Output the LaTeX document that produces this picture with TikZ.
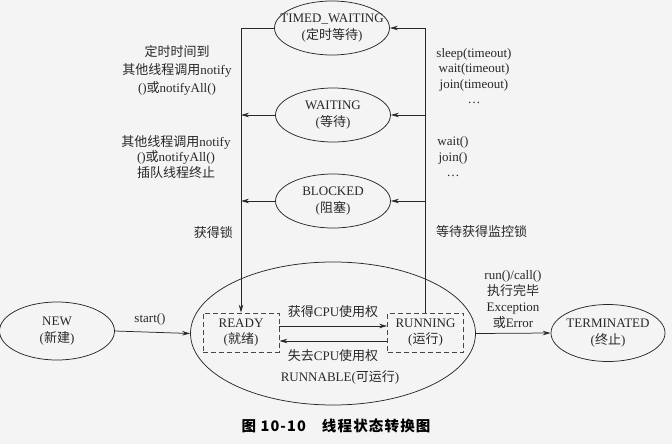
\documentclass[tikz,border=0pt]{standalone}
\usepackage{fontspec}
\setmainfont{Liberation Serif}
\newfontfamily\cjk{Noto Sans CJK SC}
\newfontfamily\cjkcap{Noto Sans CJK SC}[LetterSpace=8]
\newcommand{\zh}[1]{{\cjk #1}}
\usetikzlibrary{shapes.geometric,arrows.meta}
\definecolor{bgcol}{RGB}{244,244,244}
\definecolor{inkcol}{RGB}{40,40,40}
\tikzset{
  ln/.style={line width=0.75pt, draw=inkcol},
  st/.style={ellipse, ln, minimum width=115pt, minimum height=54pt, inner sep=0pt},
  bx/.style={draw=inkcol!85, line width=0.75pt, dash pattern=on 5pt off 3pt, minimum width=76pt, minimum height=39pt, inner sep=0pt},
  arr/.style={ln, -{Stealth[length=8pt,width=4.5pt]}},
  lbl/.style={align=center, inner sep=0pt},
}
\begin{document}
\begin{tikzpicture}[x=1pt, y=-1pt, font=\fontsize{13}{16.5}\selectfont, text=inkcol]
\fill[bgcol] (0,0) rectangle (672,444);
\useasboundingbox (0,0) rectangle (672,444);

% upper states
\node[st] (tw) at (332,28) {};
\node[lbl] (twl) at (tw) {TIMED\_WAITING\\(\zh{定时等待})};
\node[st] (wt) at (333,115) {};
\node[lbl] (wtl) at (wt) {WAITING\\(\zh{等待})};
\node[st] (bl) at (333,201) {};
\node[lbl] (bll) at (bl) {BLOCKED\\(\zh{阻塞})};

% runnable
\node[ellipse, ln, minimum width=285pt, minimum height=143pt, inner sep=0pt] (rb) at (333,333.5) {};
\node[bx] (rd) at (241,332.5) {};
\node[lbl] (rdl) at (rd) {READY\\(\zh{就绪})};
\node[bx] (rn) at (425.5,332.5) {};
\node[lbl] (rnl) at (rn) {RUNNING\\(\zh{运行})};
\node[lbl] (rbl) at (340,377) {RUNNABLE(\zh{可运行})};

% new / terminated
\node[st, minimum height=58pt] (nw) at (57,331) {};
\node[lbl] (nwl) at (nw) {NEW\\(\zh{新建})};
\node[st, minimum height=57pt, minimum width=114pt] (tm) at (608,333) {};
\node[lbl] (tml) at (tm) {TERMINATED\\(\zh{终止})};

% connectors
\draw[arr] (tw.west) -| (rd.north);
\draw[arr] (wt.west) -- (wt.west -| rd.north);
\draw[arr] (bl.west) -- (bl.west -| rd.north);
\draw[arr] (rn.north) |- (tw.east);
\draw[arr] (wt.east -| rn.north) -- (wt.east);
\draw[arr] (bl.east -| rn.north) -- (bl.east);
\draw[arr] ([yshift=6.5pt]rd.east) -- ([yshift=6.5pt]rn.west);
\draw[arr] ([yshift=-8.5pt]rn.west) -- ([yshift=-8.5pt]rd.east);
\draw[arr] (nw.east) -- (rb.west);
\draw[arr] (rb.east) -- (tm.west);

% labels
\node[lbl, font=\fontsize{13}{18}\selectfont] (l1) at (177,70) {\zh{定时时间到}\\\zh{其他线程调用}notify\\()\zh{或}notifyAll()};
\node[lbl, font=\fontsize{13}{15.5}\selectfont] (l2) at (176,157) {\zh{其他线程调用}notify\\()\zh{或}notifyAll()\\\zh{插队线程终止}};
\node[lbl, anchor=east] (l3) at (233,233) {\zh{获得锁}};
\node[lbl, font=\fontsize{13}{15.4}\selectfont] (r1) at (474,76) {sleep(timeout)\\wait(timeout)\\join(timeout)\\\ldots};
\node[lbl, font=\fontsize{13}{15.5}\selectfont] (r2) at (453,157) {wait()\\join()\\\ldots};
\node[lbl, anchor=west] (r3) at (436,232) {\zh{等待获得监控锁}};
\node[lbl] (s1) at (150,319) {start()};
\node[lbl, font=\fontsize{13}{15.7}\selectfont] (e1) at (513,299.5) {run()/call()\\\zh{执行完毕}\\Exception\\\zh{或}Error};
\node[lbl] (c1) at (333,312) {\zh{获得}CPU\zh{使用权}};
\node[lbl] (c2) at (333,356) {\zh{失去}CPU\zh{使用权}};

% caption
\node[lbl, text=black] (cap) at (336,426) {\fontsize{14.5}{16}\selectfont\cjkcap\bfseries 图 10-10\hspace{1.1em}线程状态转换图};
\end{tikzpicture}
\end{document}
